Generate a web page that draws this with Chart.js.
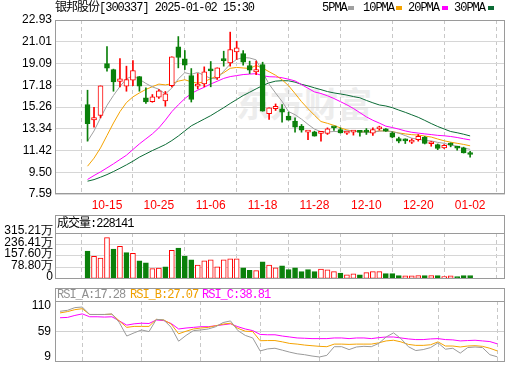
<!DOCTYPE html>
<html><head><meta charset="utf-8">
<script src="https://cdn.jsdelivr.net/npm/chart.js@4.4.1/dist/chart.umd.min.js"></script>
<style>
html,body{margin:0;padding:0;background:#fff;}
body{width:520px;height:365px;position:relative;overflow:hidden;}
.t{position:absolute;font:12px "Liberation Mono","Noto Sans CJK SC",monospace;letter-spacing:-1px;color:#000;white-space:nowrap;line-height:14px;z-index:3;}
.sq{position:absolute;width:6px;height:4px;top:6px;z-index:3;}
canvas{position:absolute;left:0;z-index:2;}
#wm{position:absolute;left:236px;top:84px;font:bold 34px "Noto Sans CJK SC";color:#ededed;white-space:nowrap;line-height:38px;z-index:1;}
</style></head><body>
<div id="wm">东方财富</div>
<div class="t" style="left:55px;top:1px">银邦股份[300337] 2025-01-02 15:30</div>
<div class="t" style="left:322px;top:1px">5PMA</div><div class="sq" style="left:348px;background:#a0a0a0"></div>
<div class="t" style="left:363px;top:1px">10PMA</div><div class="sq" style="left:396px;background:#f5a300"></div>
<div class="t" style="left:408px;top:1px">20PMA</div><div class="sq" style="left:442px;background:#ff00ff"></div>
<div class="t" style="left:454px;top:1px">30PMA</div><div class="sq" style="left:488px;background:#0b6b35"></div>
<div class="t" id="volHdr" style="left:57px;top:217px"></div>
<div class="t" id="rsiA" style="left:57px;top:288px;color:#909090"></div>
<div class="t" id="rsiB" style="left:130px;top:288px;color:#f0a000"></div>
<div class="t" id="rsiC" style="left:202px;top:288px;color:#ff00ff"></div>
<canvas id="cMain" width="520" height="212" style="top:0"></canvas>
<canvas id="cVol" width="520" height="73" style="top:215px"></canvas>
<canvas id="cRsi" width="520" height="85" style="top:288px"></canvas>
<script>
const dates = ['10-10','10-11','10-14','10-15','10-16','10-17','10-18','10-21','10-22','10-23','10-24','10-25','10-28','10-29','10-30','10-31','11-01','11-04','11-05','11-06','11-07','11-08','11-11','11-12','11-13','11-14','11-15','11-18','11-19','11-20','11-21','11-22','11-25','11-26','11-27','11-28','11-29','12-02','12-03','12-04','12-05','12-06','12-09','12-10','12-11','12-12','12-13','12-16','12-17','12-18','12-19','12-20','12-23','12-24','12-25','12-26','12-27','12-30','12-31','01-02'];
const tickDates = ['10-15','10-25','11-06','11-18','11-28','12-10','12-20','01-02'];
const openP  = [15.48,14.13,14.51,19.09,18.56,17.51,17.10,17.62,17.95,16.07,15.74,16.13,15.80,17.15,20.56,19.51,18.04,17.10,17.30,18.50,17.83,19.38,19.15,20.12,19.98,18.92,18.36,19.01,14.68,15.12,15.09,14.45,14.01,13.57,13.04,13.07,12.93,12.93,13.45,13.28,12.96,13.04,13.05,13.20,12.95,13.33,13.33,12.99,12.48,12.30,12.16,12.39,12.60,12.02,11.95,11.66,11.93,11.66,11.66,11.12];
const highP  = [16.74,15.24,17.12,20.59,18.60,19.53,18.86,19.36,17.95,16.95,16.36,16.80,16.63,19.68,21.47,20.24,18.65,18.21,18.80,19.27,18.71,20.18,21.86,21.06,20.24,19.30,19.30,19.21,15.18,15.53,15.48,14.80,14.30,13.72,13.07,13.13,13.04,13.42,13.48,13.42,13.07,13.13,13.19,13.36,13.42,13.57,13.36,13.07,12.60,12.45,12.45,12.83,12.66,12.22,12.00,11.95,12.10,11.80,11.72,11.36];
const lowP   = [12.25,13.48,14.30,18.42,16.65,17.04,16.65,17.15,16.65,15.57,15.68,16.01,15.33,17.04,18.71,18.56,15.70,16.86,17.04,17.04,17.69,18.86,18.86,19.45,18.95,18.21,18.12,14.89,14.16,14.95,13.92,14.10,13.04,13.04,12.39,12.69,12.25,12.84,13.19,12.96,12.84,12.78,12.69,12.84,12.75,13.22,13.10,12.54,12.10,12.04,12.04,12.25,12.00,11.80,11.50,11.60,11.75,11.45,11.20,10.84];
const closeP = [13.80,14.33,17.12,18.68,17.48,17.74,17.68,18.48,17.10,15.71,16.16,16.68,16.42,19.68,19.62,18.95,15.92,17.24,18.36,18.45,18.71,19.35,20.33,20.48,19.21,18.51,18.56,14.89,15.18,15.33,14.80,14.10,13.48,13.22,13.07,12.69,12.99,13.33,13.42,12.98,13.03,13.07,13.02,13.04,13.28,13.48,13.13,12.60,12.25,12.27,12.33,12.68,12.04,12.07,11.60,11.88,11.90,11.63,11.22,11.07];
const volume = [191,155,142,283.5,204.5,222.7,179.6,175.5,123.5,110,69.5,74,83,195.7,211,157,130,94.5,123.5,130,83,130,137,137,76,58,56,117,94.5,76,90,63,76,49,63,49,67,61,49,40,27,34,27,42.5,49,49,36,36,22,20,20,22,22,22,22,15.5,20,15.5,22,22.8141];
const ma5  = [12.25,13.15,14.30,15.40,16.28,17.07,17.74,18.01,17.70,17.34,17.03,16.83,16.41,16.93,17.74,18.29,18.14,18.31,18.04,17.78,17.74,18.42,19.04,19.46,19.62,19.58,19.42,18.33,17.27,16.49,15.75,14.86,14.58,14.19,13.73,13.31,13.09,13.06,13.10,13.09,13.16,13.16,13.09,12.99,13.04,13.13,13.16,13.08,12.95,12.74,12.51,12.42,12.31,12.27,12.14,12.06,11.89,11.81,11.64,11.53];
const ma10 = [10.04,10.75,11.65,12.75,13.85,14.85,15.65,16.15,16.50,16.81,17.05,17.28,17.21,17.31,17.54,17.66,17.48,17.36,17.49,17.76,18.02,18.28,18.67,18.75,18.70,18.66,18.92,18.69,18.37,18.06,17.66,17.14,16.45,15.73,15.11,14.53,13.98,13.82,13.64,13.41,13.24,13.13,13.08,13.05,13.07,13.15,13.16,13.09,12.97,12.89,12.82,12.79,12.70,12.61,12.44,12.28,12.16,12.06,11.96,11.84];
const ma20 = [8.87,9.22,9.54,9.89,10.25,10.63,11.01,11.51,12.01,12.45,12.89,13.42,14.10,14.85,15.45,16.00,16.45,16.75,17.00,17.29,17.53,17.78,17.94,18.03,18.12,18.16,18.20,18.02,17.93,17.91,17.84,17.71,17.56,17.24,16.91,16.59,16.45,16.25,16.01,15.73,15.45,15.13,14.76,14.39,14.09,13.84,13.57,13.45,13.31,13.15,13.03,12.96,12.89,12.83,12.76,12.72,12.66,12.57,12.46,12.36];
const ma30 = [8.72,8.86,9.07,9.30,9.57,9.86,10.16,10.48,10.84,11.13,11.42,11.68,11.95,12.30,12.70,13.15,13.60,13.90,14.20,14.50,14.85,15.20,15.57,15.92,16.27,16.56,16.86,17.15,17.39,17.54,17.58,17.57,17.45,17.26,17.12,16.95,16.79,16.62,16.50,16.41,16.31,16.18,16.07,15.84,15.63,15.44,15.35,15.20,14.99,14.79,14.57,14.35,14.08,13.80,13.54,13.32,13.10,12.99,12.86,12.71];
const rsiA = [92.9,94.5,99.0,100,87.6,87.6,87.6,88.6,74.2,51.8,57.1,61.9,59.2,79.5,78.5,66.2,43.2,52.8,60.8,61.9,63.5,67.3,74.2,76.9,60.8,52.8,48.6,27.0,30.4,31.5,28.3,25.0,22.3,20.8,18.6,17.0,19.7,34.1,34.1,29.3,33.6,34.7,34.1,39.5,50.2,57.1,47.5,34.1,27.7,29.3,32.6,40.5,29.9,31.5,23.4,32.6,33.6,32.6,20.8,17.28];
const rsiB = [90.2,92.4,95.6,97.2,87.6,87.6,87.6,88.1,76.9,66.2,67.8,67.8,67.8,79.5,78.5,71.6,55.5,59.8,63.5,65.1,66.2,68.9,71.6,73.1,64.6,59.8,59.2,44.0,44.3,44.3,42.1,39.5,38.4,36.8,35.7,34.7,34.1,38.4,38.4,37.9,38.4,38.4,38.4,40.5,43.7,44.8,42.1,37.9,36.3,36.3,37.3,42.1,35.2,35.2,33.6,35.2,35.7,34.7,31.5,27.07];
const rsiC = [82.2,82.7,86.0,88.6,83.8,83.8,83.3,83.8,76.9,69.9,72.1,73.1,72.6,78.5,77.4,72.6,63.5,65.1,66.2,67.3,67.3,68.9,70.5,72.1,67.3,63.5,60.8,54.5,53.9,53.9,51.8,50.2,48.6,48.1,47.5,47.5,47.5,48.6,48.6,47.5,48.6,48.6,47.5,49.1,50.2,50.2,48.6,47.0,45.9,45.9,47.0,47.5,45.9,45.4,43.7,44.3,44.8,43.7,42.6,38.81];
const priceTicks = [7.59,9.50,11.42,13.34,15.26,17.18,19.09,21.01,22.93];
const volTicks = [0,78.80,157.60,236.41,315.21];
const rsiTicks = [9,59,110];

const RED = '#ff0000', GREEN = '#0b800b';
const C5 = '#a0a0a0', C10 = '#f5a300', C20 = '#ff00ff', C30 = '#0b6b35';
const X_MIN = -0.68, X_MAX = 60.04;
const FONT = {family: 'Liberation Sans', size: 12};

const last = a => a[a.length - 1];
document.getElementById('volHdr').textContent = '成交量:' + Math.round(last(volume) * 10000);
document.getElementById('rsiA').textContent = 'RSI_A:' + last(rsiA).toFixed(2);
document.getElementById('rsiB').textContent = 'RSI_B:' + last(rsiB).toFixed(2);
document.getElementById('rsiC').textContent = 'RSI_C:' + last(rsiC).toFixed(2);

const idx = dates.map((_, i) => i);
const up = idx.map(i => closeP[i] >= openP[i]);
const volUp = idx.map(i => i === 0 ? closeP[0] >= openP[0] : closeP[i] >= closeP[i - 1]);
const pts = arr => arr.map((v, i) => ({x: i, y: v}));

function framePlugin(outer) {
  return { id: 'frame', afterDraw(chart) {
    const {ctx, chartArea: a} = chart;
    ctx.save(); ctx.strokeStyle = '#9a9a9a'; ctx.lineWidth = 1;
    const l = Math.round(a.left) + 0.5, r = Math.round(a.right) - 0.5;
    const t = Math.round(a.top) + 0.5, b = Math.round(a.bottom) - 0.5;
    if (outer) {
      ctx.strokeRect(l, 0.5, r - l, b - 0.5);
      ctx.beginPath(); ctx.moveTo(l, t); ctx.lineTo(r, t); ctx.stroke();
    } else ctx.strokeRect(l, t, r - l, b - t);
    ctx.restore();
  }};
}
function xScale(showLabels) {
  return {
    type: 'linear', min: X_MIN, max: X_MAX,
    afterBuildTicks: s => { s.ticks = tickDates.map(d => ({value: dates.indexOf(d)})); },
    ticks: {display: showLabels, autoSkip: false, maxRotation: 0, padding: 4, color: RED, font: FONT,
            callback: v => dates[v]},
    grid: {color: '#c8c8c8', drawTicks: false},
    border: {display: false, dash: [4, 3]},
    afterFit: s => { s.height = showLabels ? 18 : 0; }
  };
}
const common = {responsive: false, animation: false, devicePixelRatio: 1,
  plugins: {legend: {display: false}, tooltip: {enabled: false}}};
const lineDs = (arr, color, order) => ({type: 'line', data: pts(arr), borderColor: color, borderWidth: 1,
  pointRadius: 0, tension: 0, fill: false, order});

new Chart(document.getElementById('cMain'), {
  type: 'bar',
  data: {datasets: [
    lineDs(ma30, C30, 10), lineDs(ma20, C20, 9), lineDs(ma10, C10, 8), lineDs(ma5, C5, 7),
    {type: 'bar', data: idx.map(i => ({x: i, y: [lowP[i], highP[i]]})),
     backgroundColor: up.map(u => u ? RED : GREEN), barThickness: 1, grouped: false, order: 2},
    {type: 'bar', data: idx.map(i => ({x: i, y: [openP[i], closeP[i]]})),
     backgroundColor: up.map(u => u ? '#ffffff' : GREEN), borderColor: up.map(u => u ? RED : GREEN),
     borderWidth: 1, borderSkipped: false, barThickness: 5, minBarLength: 2, grouped: false, order: 1}
  ]},
  options: Object.assign({}, common, {
    layout: {padding: {top: 20, right: 15, left: 0, bottom: 0}},
    scales: {
      x: xScale(true),
      y: {min: 7.59, max: 22.93,
          afterBuildTicks: s => { s.ticks = priceTicks.map(v => ({value: v})); },
          ticks: {autoSkip: false, color: '#000', font: FONT, padding: 3, callback: v => v.toFixed(2)},
          grid: {color: '#d6d6d6', drawTicks: false}, border: {display: false},
          afterFit: s => { s.width = 55; }}
    }
  }),
  plugins: [framePlugin(false)]
});

new Chart(document.getElementById('cVol'), {
  type: 'bar',
  data: {datasets: [{data: idx.map(i => ({x: i, y: volume[i]})),
    backgroundColor: volUp.map(u => u ? '#ffffff' : GREEN), borderColor: volUp.map(u => u ? RED : GREEN),
    borderWidth: 1, borderSkipped: false, barThickness: 5, grouped: false}]},
  options: Object.assign({}, common, {
    layout: {padding: {top: 18, right: 15, left: 0, bottom: 9}},
    scales: {
      x: xScale(false),
      y: {min: 0, max: 315.21,
          afterBuildTicks: s => { s.ticks = volTicks.map(v => ({value: v})); },
          ticks: {autoSkip: false, color: '#000', font: FONT, padding: 2, labelOffset: -2,
                  callback: v => v === 0 ? '0' : v.toFixed(2) + '万'},
          grid: {color: '#d6d6d6', drawTicks: false}, border: {display: false},
          afterFit: s => { s.width = 55; }}
    }
  }),
  plugins: [framePlugin(true)]
});

const rsiLabelInset = {id: 'rsiInset', beforeDraw(chart) {
  const s = chart.scales.y;
  s.getLabelItems().forEach(it => {
    if (it._inset) return;
    if (it.label === String(Math.max(...rsiTicks))) it.options.translation[1] += 5;
    if (it.label === String(Math.min(...rsiTicks))) it.options.translation[1] -= 5;
    it._inset = true;
  });
}};
new Chart(document.getElementById('cRsi'), {
  type: 'line',
  data: {datasets: [lineDs(rsiC, C20, 3), lineDs(rsiB, C10, 2), lineDs(rsiA, '#9a9a9a', 1)]},
  options: Object.assign({}, common, {
    layout: {padding: {top: 13, right: 15, left: 0, bottom: 9}},
    scales: {
      x: xScale(false),
      y: {min: 9, max: 110,
          afterBuildTicks: s => { s.ticks = rsiTicks.map(v => ({value: v})); },
          ticks: {autoSkip: false, color: '#000', font: FONT, padding: 4, callback: v => String(v)},
          grid: {color: c => (c.tick && c.tick.value === 59) ? '#d0d0d0' : 'rgba(0,0,0,0)', drawTicks: false},
          border: {display: false},
          afterFit: s => { s.width = 55; }}
    }
  }),
  plugins: [framePlugin(true), rsiLabelInset]
});
</script>
</body></html>
